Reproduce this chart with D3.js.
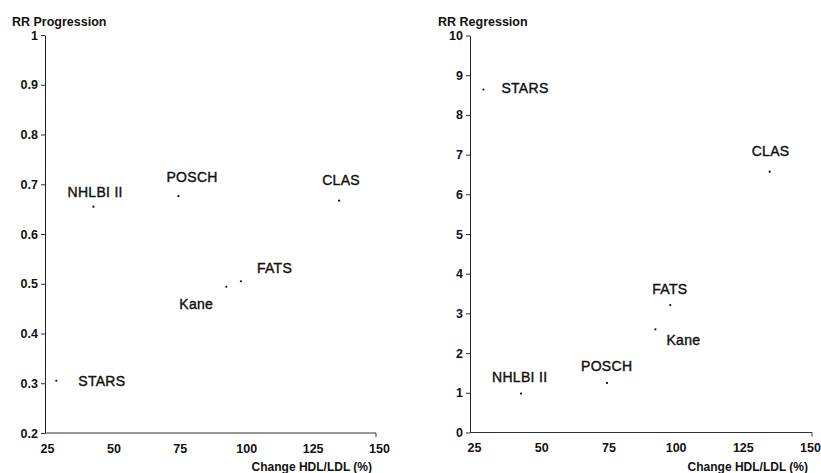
<!DOCTYPE html>
<html><head><meta charset="utf-8">
<script src="https://cdn.jsdelivr.net/npm/d3@7"></script>
<style>
html,body{margin:0;padding:0;background:#fff;}
svg{display:block;}
.tick text{font-family:"Liberation Sans",Arial,sans-serif;font-weight:bold;font-size:12.5px;fill:#111;}
.lbl{font-family:"Liberation Sans",Arial,sans-serif;font-size:14px;fill:#111;stroke:#111;stroke-width:0.4px;letter-spacing:0.3px;}
.ttl{font-family:"Liberation Sans",Arial,sans-serif;font-weight:bold;font-size:12.5px;fill:#111;}
</style></head>
<body>
<svg id="chart" width="821" height="473"></svg>
<script>
// ---- data ----
const studies = ["STARS", "NHLBI II", "POSCH", "Kane", "FATS", "CLAS"];
const changeHdlLdl = [28.5, 42.5, 74.5, 92.5, 98, 135];
const rrProgression = [0.305, 0.655, 0.676, 0.494, 0.505, 0.667];
const rrRegression = [8.64, 0.98, 1.25, 2.6, 3.21, 6.57];
const xTicks = [25, 50, 75, 100, 125, 150];
const progTicks = [0.2, 0.3, 0.4, 0.5, 0.6, 0.7, 0.8, 0.9, 1];
const regTicks = [0, 1, 2, 3, 4, 5, 6, 7, 8, 9, 10];

// label placement (pixel offsets from point), styling only
const progLabelOffsets = [[22, 5], [-26, -10], [-12, -14], [-47, 22], [16, -8], [-17, -16]];
const regLabelOffsets = [[18, 4], [-29, -12], [-26, -12], [11, 16], [-18, -11], [-18, -16]];

const svg = d3.select("#chart");

function panel(cfg) {
  const x = d3.scaleLinear().domain([25, 150]).range(cfg.xr);
  const y = d3.scaleLinear().domain(cfg.yd).range([cfg.yBottom, cfg.yTop]);
  const g = svg.append("g");

  // y axis
  const ya = g.append("g").attr("transform", `translate(${cfg.axisX},0)`)
    .call(d3.axisLeft(y).tickValues(cfg.yTicks).tickSize(4).tickSizeOuter(0)
      .tickFormat(d => String(d)));
  ya.select(".domain").attr("stroke", "#222");
  ya.selectAll(".tick line").attr("stroke", "#333");
  ya.selectAll(".tick text").attr("x", -7);

  // x axis
  const xa = g.append("g").attr("transform", `translate(0,${cfg.yBottom})`)
    .call(d3.axisBottom(x).tickValues(xTicks).tickSize(0).tickPadding(11));
  xa.select(".domain").remove();
  g.append("line").attr("x1", cfg.axisX).attr("x2", cfg.xEnd)
    .attr("y1", cfg.yBottom).attr("y2", cfg.yBottom).attr("stroke", "#333");
  g.append("line").attr("x1", cfg.xEnd).attr("x2", cfg.xEnd)
    .attr("y1", cfg.yBottom).attr("y2", cfg.yBottom + 4).attr("stroke", "#333");

  // title
  g.append("text").attr("class", "ttl").attr("x", cfg.titleX).attr("y", 26).text(cfg.title);
  g.append("text").attr("class", "ttl").attr("x", cfg.xEnd - 4).attr("y", 471)
    .attr("text-anchor", "end").style("font-size", "12px").text("Change HDL/LDL (%)");

  // points
  g.selectAll("circle.pt").data(studies).join("circle").attr("class", "pt")
    .attr("cx", (d, i) => x(changeHdlLdl[i]))
    .attr("cy", (d, i) => y(cfg.values[i]))
    .attr("r", 1.1).attr("fill", "#111");

  g.selectAll("text.lbl").data(studies).join("text").attr("class", "lbl")
    .attr("x", (d, i) => x(changeHdlLdl[i]) + cfg.offsets[i][0])
    .attr("y", (d, i) => y(cfg.values[i]) + cfg.offsets[i][1])
    .text(d => d);
}

panel({
  xr: [47, 379], axisX: 45, xEnd: 376, yd: [0.2, 1], yBottom: 433, yTop: 35,
  yTicks: progTicks, values: rrProgression, offsets: progLabelOffsets,
  title: "RR Progression", titleX: 12
});
panel({
  xr: [474, 810], axisX: 470, xEnd: 812, yd: [0, 10], yBottom: 432.5, yTop: 35.5,
  yTicks: regTicks, values: rrRegression, offsets: regLabelOffsets,
  title: "RR Regression", titleX: 438
});
</script>
</body></html>
